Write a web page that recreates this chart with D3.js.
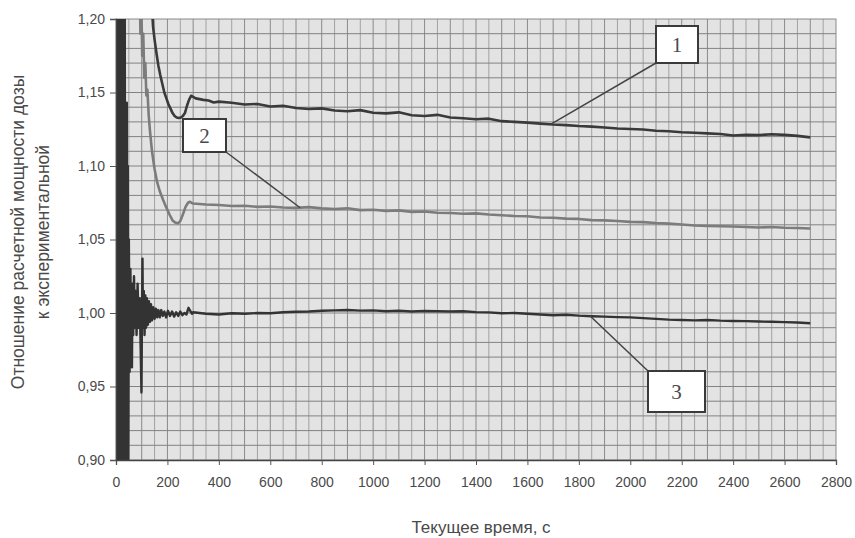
<!DOCTYPE html>
<html>
<head>
<meta charset="utf-8">
<script src="https://cdn.jsdelivr.net/npm/d3@7"></script>
<style>
  html, body { margin: 0; padding: 0; background: #ffffff; }
  svg { display: block; }
</style>
</head>
<body>
<svg id="chart" width="855" height="538"></svg>
<script>
// ---------------- DATA ----------------
const xTicks = [0, 200, 400, 600, 800, 1000, 1200, 1400, 1600, 1800, 2000, 2200, 2400, 2600, 2800];
const yTicks = [0.90, 0.95, 1.00, 1.05, 1.10, 1.15, 1.20];
const xTitle = "Текущее время, с";
const yTitleLines = ["Отношение расчетной мощности дозы", "к экспериментальной"];

// Curve 1 (time, ratio)
const time1 = [138, 144, 150, 158, 165, 172, 180, 188, 196, 204, 212, 220, 228, 236, 244, 252, 260, 268, 276, 284, 292, 300, 310, 325, 340, 360, 380, 400,
  450, 500, 550, 600, 650, 700, 750, 800, 850, 900, 950, 1000, 1050, 1100, 1150, 1200, 1250, 1300, 1350, 1400, 1450, 1500,
  1550, 1600, 1650, 1700, 1750, 1800, 1850, 1900, 1950, 2000, 2050, 2100, 2150, 2200, 2250, 2300, 2350, 2400, 2450, 2500,
  2550, 2600, 2650, 2700];
const ratio1 = [1.215, 1.195, 1.186, 1.176, 1.168, 1.162, 1.156, 1.150, 1.146, 1.142, 1.139, 1.136, 1.134, 1.133, 1.1327, 1.133, 1.134, 1.136, 1.141, 1.145, 1.1478, 1.147, 1.146, 1.1455, 1.145, 1.1445, 1.1432, 1.1438,
  1.1430, 1.1418, 1.1422, 1.1405, 1.1410, 1.1395, 1.1388, 1.1392, 1.1378, 1.1372, 1.1380, 1.1362, 1.1358, 1.1365, 1.1345, 1.1340, 1.1348, 1.1330, 1.1325, 1.1318, 1.1322, 1.1305,
  1.1300, 1.1295, 1.1288, 1.1282, 1.1278, 1.1272, 1.1268, 1.1262, 1.1255, 1.1252, 1.1248, 1.1240, 1.1236, 1.1230, 1.1226, 1.1222, 1.1218, 1.1208, 1.1212, 1.1210,
  1.1216, 1.1212, 1.1205, 1.1195];

// Curve 2
const time2 = [90, 95, 98, 102, 106, 110, 114, 118, 122, 127, 132, 140, 150, 160, 170, 183, 195, 208, 220, 230, 241, 250, 260, 270, 280, 288, 295,
  300, 350, 400, 450, 500, 550, 600, 650, 700, 750, 800, 850, 900, 950, 1000, 1050, 1100, 1150, 1200, 1250, 1300, 1350, 1400, 1450, 1500,
  1550, 1600, 1650, 1700, 1750, 1800, 1850, 1900, 1950, 2000, 2050, 2100, 2150, 2200, 2250, 2300, 2350, 2400, 2450, 2500,
  2550, 2600, 2650, 2700];
const ratio2 = [1.25, 1.19, 1.215, 1.175, 1.19, 1.16, 1.17, 1.148, 1.152, 1.135, 1.124, 1.110, 1.098, 1.089, 1.083, 1.077, 1.072, 1.067, 1.063, 1.0615, 1.061, 1.0625, 1.067, 1.072, 1.075, 1.0757, 1.0748,
  1.0745, 1.0738, 1.0735, 1.0728, 1.0730, 1.0722, 1.0725, 1.0718, 1.0715, 1.0720, 1.0712, 1.0708, 1.0712, 1.0700, 1.0702, 1.0695, 1.0698, 1.0688, 1.0690, 1.0682, 1.0680, 1.0675, 1.0678, 1.0670, 1.0665,
  1.0660, 1.0658, 1.0650, 1.0648, 1.0642, 1.0640, 1.0632, 1.0630, 1.0626, 1.0620, 1.0618, 1.0612, 1.0608, 1.0602, 1.0595, 1.0592, 1.0590, 1.0588, 1.0585, 1.0582,
  1.0585, 1.0580, 1.0578, 1.0575];

// Curve 3
const time3 = [0, 2, 4, 6, 8, 10, 12, 14, 16, 18, 20, 22, 24, 26, 28, 30, 32, 34, 36, 38, 40, 42, 44, 46, 48, 50, 53, 56, 59, 62, 64, 67, 70, 73, 76, 80, 84, 88, 92, 96, 99, 101, 103, 105, 108, 111, 114, 117, 120, 124, 128, 132, 136, 140, 145, 150, 155, 160, 165, 170, 176, 182, 188, 195, 202, 210, 218, 226, 234, 242, 250, 258, 266, 274, 282, 290, 296,
  300, 350, 400, 450, 500, 550, 600, 650, 700, 750, 800, 850, 900, 950, 1000, 1050, 1100, 1150, 1200, 1250, 1300, 1350, 1400, 1450, 1500,
  1550, 1600, 1650, 1700, 1750, 1800, 1850, 1900, 1950, 2000, 2050, 2100, 2150, 2200, 2250, 2300, 2350, 2400, 2450, 2500,
  2550, 2600, 2650, 2700];
const ratio3 = [0.88, 1.25, 0.85, 1.25, 0.85, 1.25, 0.85, 1.25, 0.85, 1.25, 0.85, 1.25, 0.86, 1.25, 0.85, 1.25, 0.85, 1.22, 0.86, 1.143, 0.88, 1.143, 0.85, 1.10, 0.90, 1.05, 0.96, 1.03, 0.975, 0.963, 1.02, 0.985, 1.025, 0.99, 1.015, 0.985, 1.02, 0.99, 1.01, 0.975, 0.946, 1.0, 1.037, 0.99, 1.015, 0.985, 1.012, 0.99, 1.01, 0.992, 1.008, 0.994, 1.006, 0.995, 1.004, 0.996, 1.003, 0.997, 1.002, 0.997, 1.002, 0.998, 1.001, 0.997, 1.0015, 0.998, 1.001, 0.9975, 1.0005, 0.998, 1.001, 0.9985, 1.0, 0.999, 1.0035, 1.001, 0.9995,
  1.0005, 0.9995, 0.9990, 0.9998, 0.9995, 1.0000, 0.9998, 1.0005, 1.0008, 1.0010, 1.0015, 1.0018, 1.0020, 1.0016, 1.0018, 1.0012, 1.0015, 1.0010, 1.0014, 1.0012, 1.0010, 1.0012, 1.0006, 1.0004, 0.9998,
  1.0000, 0.9995, 0.9990, 0.9985, 0.9988, 0.9982, 0.9978, 0.9975, 0.9972, 0.9970, 0.9965, 0.9960, 0.9955, 0.9952, 0.9950, 0.9952, 0.9948, 0.9946, 0.9945, 0.9942,
  0.9940, 0.9938, 0.9935, 0.9930];

// Callout labels: series number, anchor point on the curve (time, ratio)
const calloutLabels = ["1", "2", "3"];
const calloutTimes = [1690, 716, 1843];
const calloutRatios = [1.1283, 1.0716, 0.9981];

// ---------------- CHART ----------------
const svg = d3.select("#chart");
const margin = { left: 116, right: 19, top: 19, bottom: 78 };
const W = 855, H = 538;
const x = d3.scaleLinear().domain([0, 2800]).range([margin.left, W - margin.right]);
const y = d3.scaleLinear().domain([0.90, 1.20]).range([H - margin.bottom, margin.top]);

const fmtY = v => d3.format(".2f")(v).replace(".", ",");
const textColor = "#4a4a4a";

// plot background
svg.append("rect")
  .attr("x", x(0)).attr("y", y(1.20))
  .attr("width", x(2800) - x(0)).attr("height", y(0.90) - y(1.20))
  .attr("fill", "#e3e3e3");

// grid
const grid = svg.append("g").attr("class", "grid");
const vGrid = d3.range(50, 2800, 50);
const hGrid = d3.range(1, 30).map(i => 0.90 + i * 0.01);
grid.selectAll("line.v").data(vGrid).join("line")
  .attr("class", "v")
  .attr("x1", d => x(d)).attr("x2", d => x(d))
  .attr("y1", y(0.90)).attr("y2", y(1.20))
  .attr("stroke", d => d % 100 === 0 ? "#8a8a8a" : "#a2a2a2")
  .attr("stroke-width", 1);
grid.selectAll("line.h").data(hGrid).join("line")
  .attr("class", "h")
  .attr("x1", x(0)).attr("x2", x(2800))
  .attr("y1", d => y(d)).attr("y2", d => y(d))
  .attr("stroke", "#828282")
  .attr("stroke-width", 1);

// plot border (top/right)
svg.append("rect")
  .attr("x", x(0)).attr("y", y(1.20))
  .attr("width", x(2800) - x(0)).attr("height", y(0.90) - y(1.20))
  .attr("fill", "none").attr("stroke", "#8a8a8a").attr("stroke-width", 1);

// clip
svg.append("clipPath").attr("id", "plotclip")
  .append("rect")
  .attr("x", x(0)).attr("y", y(1.20))
  .attr("width", x(2800) - x(0)).attr("height", y(0.90) - y(1.20));

const line = d3.line().x(d => x(d[0])).y(d => y(d[1]));
const series = [
  { t: time1, v: ratio1, color: "#3a3a3a", w: 2.6 },
  { t: time2, v: ratio2, color: "#7c7c7c", w: 2.6 },
  { t: time3, v: ratio3, color: "#333333", w: 2.4 }
];
const lines = svg.append("g").attr("clip-path", "url(#plotclip)");
series.forEach(s => {
  lines.append("path")
    .datum(s.t.map((t, i) => [t, s.v[i]]))
    .attr("d", line)
    .attr("fill", "none")
    .attr("stroke", s.color)
    .attr("stroke-width", s.w)
    .attr("stroke-linejoin", "round");
});

// axes
const xAxis = svg.append("g")
  .attr("transform", `translate(0,${y(0.90)})`)
  .call(d3.axisBottom(x).tickValues(xTicks).tickSize(5).tickPadding(12).tickFormat(d3.format("d")));
const yAxis = svg.append("g")
  .attr("transform", `translate(${x(0)},0)`)
  .call(d3.axisLeft(y).tickValues(yTicks).tickSize(6).tickPadding(5).tickFormat(fmtY));
[xAxis, yAxis].forEach(a => {
  a.select(".domain").attr("stroke", "#444").attr("stroke-width", 1.3);
  a.selectAll(".tick line").attr("stroke", "#555");
  a.selectAll(".tick text")
    .attr("fill", textColor)
    .style("font-family", "'Liberation Sans', Arial, sans-serif")
    .style("font-size", "14px");
});

// axis titles
svg.append("text")
  .attr("x", 481).attr("y", 533)
  .attr("text-anchor", "middle")
  .attr("fill", textColor)
  .style("font-family", "'Liberation Sans', Arial, sans-serif")
  .style("font-size", "17px")
  .text(xTitle);

const yTitleX = [18, 43];
yTitleLines.forEach((t, i) => {
  svg.append("text")
    .attr("transform", `translate(${yTitleX[i]},232) rotate(-90)`)
    .attr("text-anchor", "middle")
    .attr("dy", "0.35em")
    .attr("fill", textColor)
    .style("font-family", "'Liberation Sans', Arial, sans-serif")
    .style("font-size", "17.5px")
    .text(t);
});

// callouts
const boxes = [
  { x0: 656, y0: 26, w: 42, h: 37, ax: 656, ay: 63 },
  { x0: 183, y0: 119, w: 43, h: 33, ax: 226, ay: 152 },
  { x0: 648, y0: 371, w: 57, h: 41, ax: 648, ay: 371 }
];
calloutLabels.forEach((lab, i) => {
  const b = boxes[i];
  svg.append("line")
    .attr("x1", b.ax).attr("y1", b.ay)
    .attr("x2", x(calloutTimes[i])).attr("y2", y(calloutRatios[i]))
    .attr("stroke", "#444").attr("stroke-width", 1.5);
  svg.append("rect")
    .attr("x", b.x0).attr("y", b.y0).attr("width", b.w).attr("height", b.h)
    .attr("fill", "#ffffff").attr("stroke", "#3a3a3a").attr("stroke-width", 2);
  svg.append("text")
    .attr("x", b.x0 + b.w / 2).attr("y", b.y0 + b.h / 2)
    .attr("dy", "0.36em")
    .attr("text-anchor", "middle")
    .attr("fill", "#4a4a4a")
    .style("font-family", "'Liberation Serif', 'Times New Roman', serif")
    .style("font-size", "21px")
    .text(lab);
});
</script>
</body>
</html>
